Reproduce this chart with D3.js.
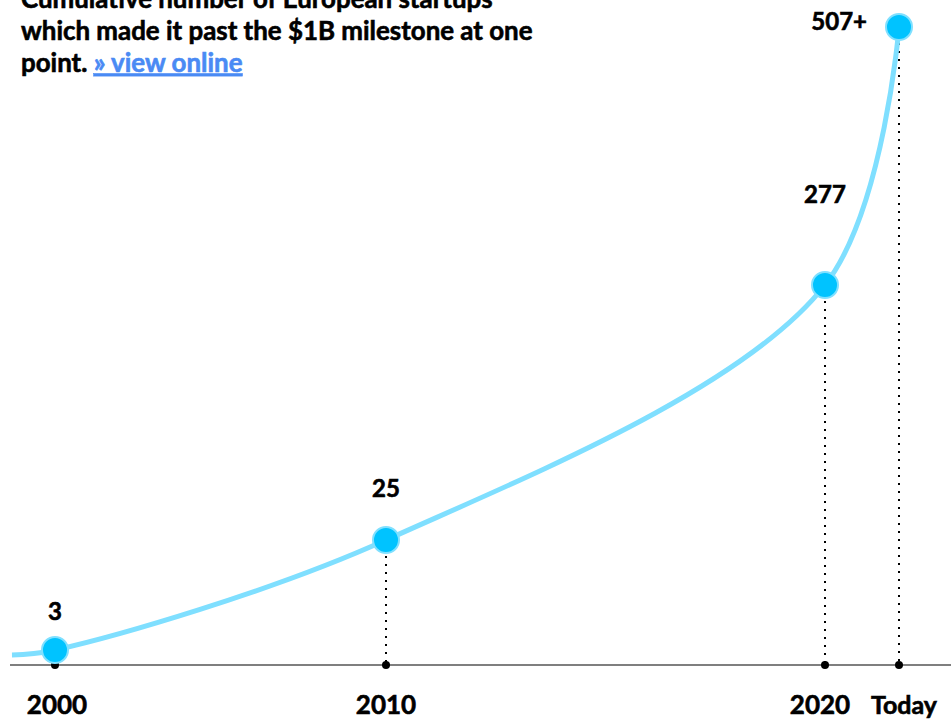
<!DOCTYPE html>
<html>
<head>
<meta charset="utf-8">
<script src="https://cdn.jsdelivr.net/npm/d3@7"></script>
<style>
  html, body { margin: 0; padding: 0; background: #fff; }
  svg { display: block; font-family: Lato, "Noto Sans", sans-serif; font-weight: 700; }
  .heavy { stroke: #000; stroke-width: 0.6px; paint-order: stroke; }
</style>
</head>
<body>
<svg id="chart" width="951" height="719"></svg>
<script>
// Milestones: cumulative European startups that passed the $1B mark
const periods = ["2000", "2010", "2020", "Today"];
const periodYears = [2000, 2010, 2020, 2022];
const counts = [3, 25, 277, 507];
const countLabels = ["3", "25", "277", "507+"];
// where the curve enters from the left edge
const leadIn = { year: 1998.7, count: 2 };

const titleLines = [
  "Cumulative number of European startups",
  "which made it past the $1B milestone at one"
];
const titleLast = "point.";
const linkText = "» view online";

const svg = d3.select("#chart");

// Illustrative (non-uniform) axes, anchored at each milestone
const x = d3.scaleLinear().domain(periodYears).range([55, 386, 825, 899]);
const y = d3.scaleLinear().domain([0, 3, 25, 277, 507]).range([665, 650, 540, 285, 27]);

// title
const title = svg.append("text").attr("x", 21).attr("font-size", 25.9).attr("fill", "#000");
titleLines.forEach((t, i) => {
  title.append("tspan").attr("x", 21).attr("y", 7.5 + i * 32).attr("class", "heavy").text(t);
});
title.append("tspan").attr("x", 21).attr("y", 71.5).attr("class", "heavy").text(titleLast + " ");
title.append("tspan").attr("fill", "#4a8af4").attr("stroke", "#4a8af4").attr("stroke-width", 0.6)
  .attr("text-decoration", "underline").text(linkText);

// baseline
svg.append("line")
  .attr("x1", 10).attr("x2", 951)
  .attr("y1", y(0)).attr("y2", y(0))
  .attr("stroke", "#555").attr("stroke-width", 1.5);

const pts = periodYears.map((yr, i) => ({ year: yr, count: counts[i], label: countLabels[i], period: periods[i] }));

// dotted drop lines
svg.selectAll("line.drop").data(pts.slice(1)).join("line")
  .attr("class", "drop")
  .attr("x1", d => x(d.year)).attr("x2", d => x(d.year))
  .attr("y1", d => y(d.count)).attr("y2", y(0))
  .attr("stroke", "#000").attr("stroke-width", 2)
  .attr("stroke-dasharray", "2,6");

// growth curve
const line = d3.line()
  .x(d => x(d.year)).y(d => y(d.count))
  .curve(d3.curveCatmullRom.alpha(0.5));
svg.append("path")
  .datum([leadIn, ...pts])
  .attr("d", line)
  .attr("fill", "none")
  .attr("stroke", "#7fdfff")
  .attr("stroke-width", 5);

// tick dots on the baseline
svg.selectAll("circle.tick").data(pts).join("circle")
  .attr("class", "tick")
  .attr("cx", d => x(d.year)).attr("cy", y(0)).attr("r", 4)
  .attr("fill", "#000");

// milestone markers
svg.selectAll("circle.pt").data(pts).join("circle")
  .attr("class", "pt")
  .attr("cx", d => x(d.year)).attr("cy", d => y(d.count)).attr("r", 13)
  .attr("fill", "#00c3ff").attr("stroke", "#80e0ff").attr("stroke-width", 2);

// value labels
const labelPos = [
  { dx: 0, dy: -30, anchor: "middle" },
  { dx: 0, dy: -43, anchor: "middle" },
  { dx: 0, dy: -82, anchor: "middle" },
  { dx: -32, dy: 3, anchor: "end" }
];
svg.selectAll("text.val").data(pts).join("text")
  .attr("class", "val heavy")
  .attr("x", (d, i) => x(d.year) + labelPos[i].dx)
  .attr("y", (d, i) => y(d.count) + labelPos[i].dy)
  .attr("text-anchor", (d, i) => labelPos[i].anchor)
  .attr("font-size", 24)
  .text(d => d.label);

// period labels
const periodDx = [2, 0, -5, 5];
svg.selectAll("text.period").data(pts).join("text")
  .attr("class", "period heavy")
  .attr("x", (d, i) => x(d.year) + periodDx[i])
  .attr("y", 714)
  .attr("text-anchor", "middle")
  .attr("font-size", (d, i) => i === 3 ? 25 : 26)
  .text(d => d.period);
</script>
</body>
</html>
